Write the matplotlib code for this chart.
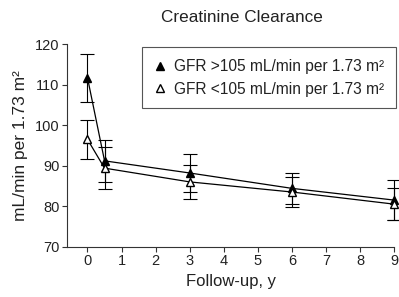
import matplotlib
matplotlib.use('Agg')
import matplotlib.pyplot as plt
from matplotlib.lines import Line2D

plt.rcParams['font.family'] = ['Liberation Sans', 'DejaVu Sans']

# follow-up years
years = [0, 0.5, 3, 6, 9]
# GFR >105 group
high_mean = [111.7, 91.2, 88.2, 84.4, 81.5]
high_err = [5.9, 5.2, 4.7, 3.8, 5.0]
# GFR <105 group
low_mean = [96.5, 89.4, 86.0, 83.5, 80.5]
low_err = [4.9, 5.1, 4.1, 3.6, 3.9]

xticks = list(range(0, 10))
yticks = [70, 80, 90, 100, 110, 120]
high_label = 'GFR >105 mL/min per 1.73 m\u00b2'
low_label = 'GFR <105 mL/min per 1.73 m\u00b2'

fig = plt.figure(figsize=(3.99, 2.97), dpi=100)
ax = fig.add_axes([0.168, 0.1694, 0.8205, 0.6816])

text_color = '#222222'
ms = 6.3
cap = 4.7

ax.errorbar(years, high_mean, yerr=high_err, fmt='none', ecolor='black',
            elinewidth=0.8, capsize=cap, capthick=0.8, clip_on=False, zorder=2)
ax.errorbar(years, low_mean, yerr=low_err, fmt='none', ecolor='black',
            elinewidth=0.8, capsize=cap, capthick=0.8, clip_on=False, zorder=2)
ax.plot(years, high_mean, color='black', lw=0.9, marker='^', ms=ms,
        mfc='black', mec='black', clip_on=False, zorder=3)
ax.plot(years, low_mean, color='black', lw=0.9, marker='^', ms=ms,
        mfc='white', mec='black', mew=1.0, clip_on=False, zorder=4)

ax.set_xlim(-0.6, 9)
ax.set_ylim(70, 120)
ax.set_xticks(xticks)
ax.set_yticks(yticks)
ax.spines['top'].set_visible(False)
ax.spines['right'].set_visible(False)
for s in ('left', 'bottom'):
    ax.spines[s].set_linewidth(0.8)
    ax.spines[s].set_color('#333333')
ax.tick_params(direction='out', length=3.5, width=0.8, color='#333333',
               labelsize=10.5, labelcolor=text_color, pad=2)

ax.set_xlabel('Follow-up, y', fontsize=12, color=text_color, labelpad=4)
ax.set_ylabel('mL/min per 1.73 m\u00b2', fontsize=12.5, color=text_color, labelpad=5)
fig.text(0.606, 0.94, 'Creatinine Clearance', ha='center', va='center',
         fontsize=12.3, color=text_color)

handles = [
    Line2D([], [], ls='none', marker='^', ms=ms, mfc='black', mec='black'),
    Line2D([], [], ls='none', marker='^', ms=ms, mfc='white', mec='black'),
]
leg = ax.legend(handles, [high_label, low_label], loc='upper right',
                bbox_to_anchor=(1.005, 0.985), borderaxespad=0, fontsize=11.2,
                fancybox=False, framealpha=1, edgecolor='#555555',
                handlelength=0.8, handletextpad=0.5, labelspacing=0.5,
                borderpad=0.75)
leg.get_frame().set_linewidth(0.8)
for t in leg.get_texts():
    t.set_color(text_color)

fig.savefig('out.png', dpi=100)
